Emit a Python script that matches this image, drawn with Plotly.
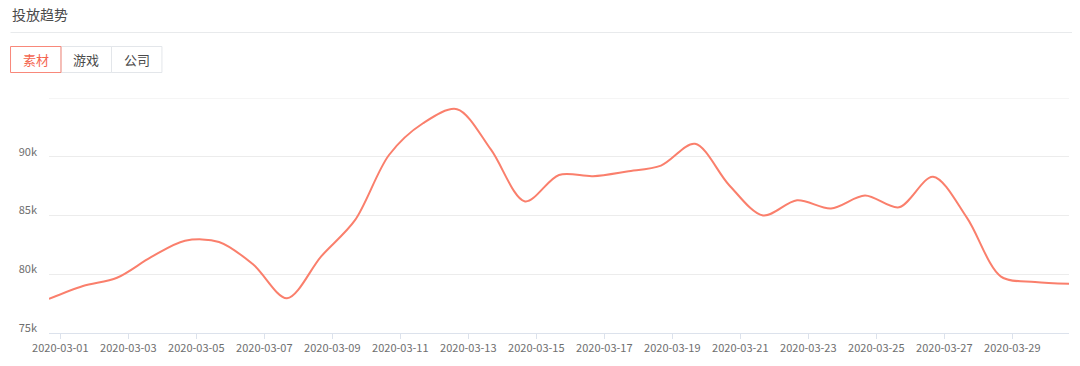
import pandas as pd
import plotly.graph_objects as go

# ---------------- data ----------------
dates = pd.date_range("2020-03-01", "2020-03-31", freq="D").strftime("%Y-%m-%d").tolist()
values = [77.9, 79.0, 79.7, 81.45, 82.85, 82.75, 80.85, 77.95, 81.5, 84.6,
          90.15, 92.85, 94.05, 90.6, 86.2, 88.45, 88.35, 88.75, 89.25, 91.1,
          87.6, 85.0, 86.3, 85.6, 86.7, 85.7, 88.3, 84.8, 79.8, 79.35, 79.2]
values = [v * 1000 for v in values]
y_ticks = [75000, 80000, 85000, 90000, 95000]
y_tick_labels = ["75k", "80k", "85k", "90k", ""]
x_tick_dates = pd.date_range("2020-03-01", "2020-03-29", freq="2D").strftime("%Y-%m-%d").tolist()
tabs = ["素材", "游戏", "公司"]
title_text = "投放趋势"

# ---------------- layout geometry ----------------
W, H = 1080, 366
ML, MR, MT, MB = 48.5, 11, 98, 33
PW, PH = W - ML - MR, H - MT - MB

def px(xp):
    return (xp - ML) / PW

def py(yp):
    return (H - MB - yp) / PH

FONT = "Noto Sans CJK SC, Open Sans, sans-serif"
LINE_COLOR = "#fa7f6c"
GRID_COLOR = "#ececec"

# data timestamps are local (UTC+8) midnights shown on a UTC axis
x_vals = pd.to_datetime(dates) - pd.Timedelta(hours=8)

fig = go.Figure()
fig.add_trace(go.Scatter(
    x=x_vals, y=values, mode="lines",
    line=dict(color=LINE_COLOR, width=2, shape="spline", smoothing=0.9),
    hoverinfo="x+y", showlegend=False,
))

shapes = [
    dict(type="line", xref="paper", yref="paper", x0=px(10), x1=px(1072), y0=py(32.5), y1=py(32.5),
         line=dict(color="#e8eaec", width=1)),
    # top grid line (max of y range)
    dict(type="line", xref="paper", yref="y", x0=0, x1=1, y0=y_ticks[-1], y1=y_ticks[-1],
         line=dict(color=GRID_COLOR, width=1), layer="below"),
]
annotations = [
    dict(text=title_text, xref="paper", yref="paper", x=px(9), y=py(14), xanchor="left", yanchor="middle",
         showarrow=False, font=dict(family=FONT, size=14, color="#4a4a4a")),
]

tab_edges = [10, 60.5, 111, 161.5]
for i, t in enumerate(tabs):
    x0, x1 = tab_edges[i], tab_edges[i + 1]
    selected = i == 0
    if not selected:
        shapes.append(dict(type="rect", xref="paper", yref="paper", x0=px(x0), x1=px(x1), y0=py(72.5), y1=py(46.5),
                           line=dict(color="#e3e6ea", width=1), fillcolor="rgba(0,0,0,0)"))
    annotations.append(dict(text=t, xref="paper", yref="paper", x=px((x0 + x1) / 2), y=py(59.5),
                            xanchor="center", yanchor="middle", showarrow=False,
                            font=dict(family=FONT, size=13, color="#f4654f" if selected else "#4a4a4a")))
shapes.append(dict(type="rect", xref="paper", yref="paper", x0=px(tab_edges[0]), x1=px(tab_edges[1]),
                   y0=py(72.5), y1=py(46.5), line=dict(color="#f8887a", width=1), fillcolor="rgba(0,0,0,0)"))

fig.update_layout(
    width=W, height=H,
    margin=dict(l=ML, r=MR, t=MT, b=MB, pad=0),
    paper_bgcolor="white", plot_bgcolor="white",
    font=dict(family=FONT, size=11, color="#6e6e6e"),
    shapes=shapes, annotations=annotations,
    xaxis=dict(
        type="date",
        range=[x_vals[0], x_vals[-1]],
        tickvals=x_tick_dates, tickformat="%Y-%m-%d",
        showgrid=False, zeroline=False,
        showline=True, linecolor="#dce2ec", linewidth=1,
        ticks="outside", ticklen=5, tickcolor="#dce2ec",
        tickfont=dict(family=FONT, size=11, color="#6e6e6e"),
        fixedrange=True,
    ),
    yaxis=dict(
        range=[75000, 95000],
        tickvals=y_ticks, ticktext=y_tick_labels,
        showgrid=True, gridcolor=GRID_COLOR, gridwidth=1,
        zeroline=False, showline=False, ticks="",
        ticklabelstandoff=11, ticklabelshift=-5,
        tickfont=dict(family=FONT, size=11, color="#6e6e6e"),
        fixedrange=True,
    ),
)

fig.write_html("out.html", config={"displayModeBar": False},
               post_script="document.body.style.margin='0';document.body.style.overflow='hidden';")
